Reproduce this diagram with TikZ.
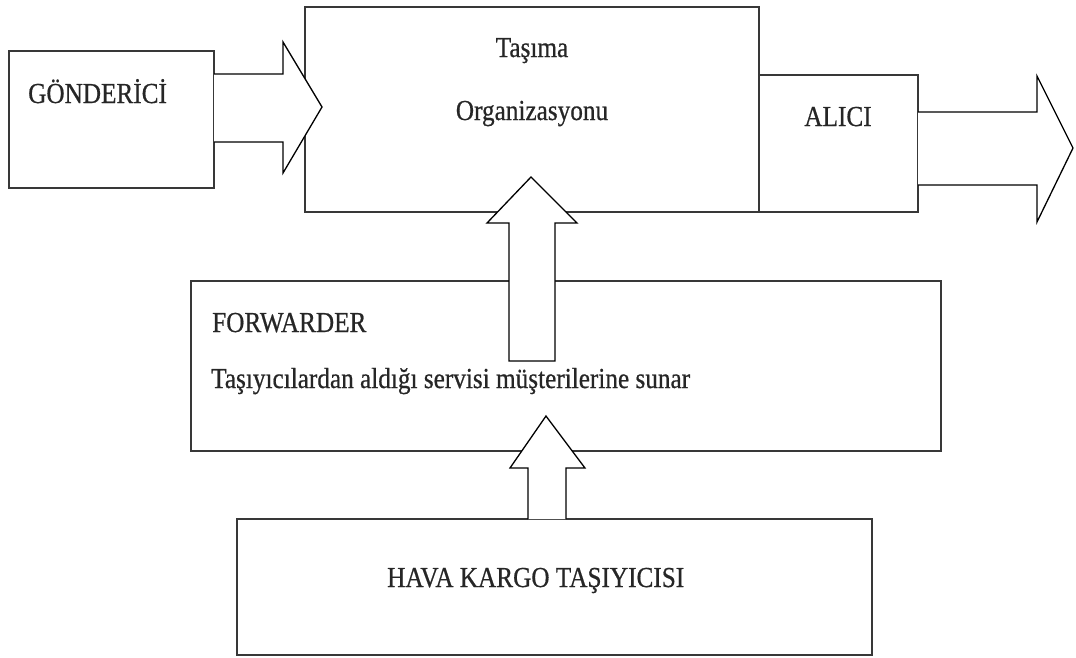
\documentclass[tikz,border=0pt]{standalone}
\usepackage{fontspec}
\setmainfont{Liberation Serif}[FakeStretch=0.87,FakeBold=0.6]
\begin{document}
\begin{tikzpicture}[x=1pt,y=-1pt,
  boxline/.style={draw=black!78, line width=1.9pt},
  blockarrow/.style={draw=black, line width=1.3pt, fill=white, line join=miter},
  lbl/.style={inner sep=0pt, anchor=base west, font=\fontsize{29}{34}\selectfont, text=black!85},
  clbl/.style={inner sep=0pt, anchor=base, font=\fontsize{29}{34}\selectfont, text=black!85}]
\useasboundingbox (0,0) rectangle (1076,657);
% boxes
\path[boxline] (9,51) rectangle (214,188);
\path[boxline] (305,7) rectangle (759,212);
\path[boxline] (759,75) rectangle (918,212);
\path[boxline] (191,281) rectangle (941,451);
\path[boxline] (237,519) rectangle (872,655);
% named coordinates of boxes
\coordinate (gonA) at (214,74);
\coordinate (gonB) at (214,142);
\coordinate (tas) at (322,107);
\coordinate (aliA) at (918,112);
\coordinate (aliB) at (918,185);
\coordinate (out) at (1073,148);
\coordinate (fwdA) at (509,361);
\coordinate (fwdB) at (555,361);
\coordinate (tasbot) at (531,177);
\coordinate (havaA) at (528,519);
\coordinate (havaB) at (566,519);
\coordinate (fwdbot) at (546,416);
% labels
\node[lbl] (tGon) at (28,103) {GÖNDERİCİ};
\node[clbl] (tTas1) at (532,57) {Taşıma};
\node[clbl] (tTas2) at (532,120) {Organizasyonu};
\node[clbl] (tAli) at (838,126) {ALICI};
\node[lbl] (tFwd) at (212,332) {FORWARDER};
\node[lbl] (tFwd2) at (211,388) {Taşıyıcılardan aldığı servisi müşterilerine sunar};
\node[lbl] (tHava) at (387,587) {HAVA KARGO TAŞIYICISI};
% block arrows
\path[blockarrow] (gonA) -- (283,74) -- (283,42) -- (tas) -- (283,173) -- (283,142) -- (gonB);
\path[blockarrow] (aliA) -- (1037,112) -- (1037,76) -- (out) -- (1037,222) -- (1037,185) -- (aliB);
\path[blockarrow] (fwdA) -- (509,223) -- (487,223) -- (tasbot) -- (577,223) -- (555,223) -- (fwdB) -- cycle;
\path[blockarrow] (havaA) -- (528,468) -- (510,468) -- (fwdbot) -- (585,468) -- (566,468) -- (havaB);
\end{tikzpicture}
\end{document}
